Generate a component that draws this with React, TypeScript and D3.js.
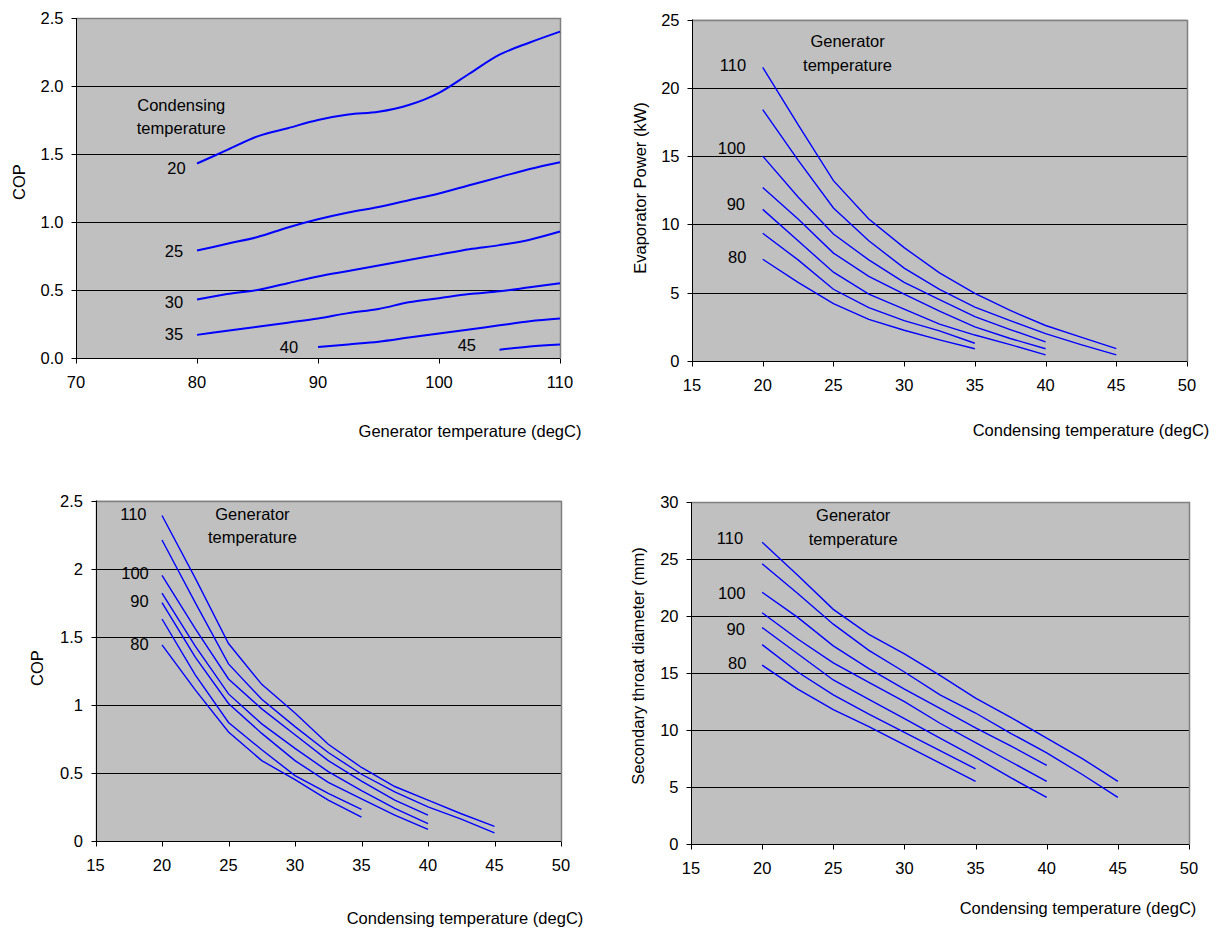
import React from 'react';
import * as d3 from 'd3';

// Chart 1: COP vs generator temperature, one line per condensing temperature
const genTemps = [80, 82.5, 85, 87.5, 90, 92.5, 95, 97.5, 100, 102.5, 105, 107.5, 110];
const copByCond = [
  [1.43, 1.53, 1.63, 1.69, 1.75, 1.79, 1.81, 1.86, 1.95, 2.09, 2.23, 2.32, 2.4],
  [0.79, 0.84, 0.89, 0.96, 1.02, 1.07, 1.11, 1.16, 1.21, 1.27, 1.33, 1.39, 1.44],
  [0.43, 0.47, 0.5, 0.55, 0.6, 0.64, 0.68, 0.72, 0.76, 0.8, 0.83, 0.87, 0.93],
  [0.17, 0.2, 0.23, 0.26, 0.29, 0.33, 0.36, 0.41, 0.44, 0.47, 0.49, 0.52, 0.55],
  [null, null, null, null, 0.08, 0.1, 0.12, 0.15, 0.18, 0.21, 0.24, 0.27, 0.29],
  [null, null, null, null, null, null, null, null, null, null, 0.06, 0.085, 0.1],
];

// Charts 2-4: one line per generator temperature (110, 105 ... 80)
const condTemps = [20, 22.5, 25, 27.5, 30, 32.5, 35, 37.5, 40, 42.5, 45];
const evapPower = [
  [21.5, 17.3, 13.2, 10.4, 8.3, 6.45, 4.95, 3.7, 2.6, 1.75, 0.9],
  [18.4, 14.7, 11.2, 8.8, 6.8, 5.25, 3.95, 2.95, 2.0, 1.2, 0.45],
  [15.0, 12.0, 9.3, 7.4, 5.75, 4.5, 3.25, 2.3, 1.4],
  [12.7, 10.4, 7.9, 6.2, 4.9, 3.65, 2.5, 1.65, 0.9],
  [11.1, 8.8, 6.5, 4.9, 3.8, 2.7, 1.9, 1.2, 0.45],
  [9.35, 7.4, 5.25, 3.9, 2.95, 2.2, 1.3],
  [7.45, 5.75, 4.2, 3.05, 2.25, 1.55, 0.9],
];
const copByGen = [
  [2.39, 1.93, 1.45, 1.15, 0.94, 0.71, 0.54, 0.4, 0.3, 0.2, 0.107],
  [2.21, 1.75, 1.3, 1.04, 0.84, 0.65, 0.49, 0.36, 0.25, 0.16, 0.06],
  [1.95, 1.56, 1.19, 0.97, 0.78, 0.59, 0.44, 0.3, 0.19],
  [1.82, 1.43, 1.08, 0.86, 0.68, 0.51, 0.37, 0.24, 0.127],
  [1.75, 1.35, 1.01, 0.79, 0.59, 0.43, 0.31, 0.19, 0.086],
  [1.63, 1.22, 0.87, 0.67, 0.48, 0.35, 0.232],
  [1.44, 1.11, 0.8, 0.59, 0.45, 0.3, 0.176],
];
const throatDiam = [
  [26.5, 23.6, 20.6, 18.4, 16.7, 14.8, 12.8, 11.1, 9.3, 7.5, 5.5],
  [24.6, 22.0, 19.3, 17.0, 15.1, 13.1, 11.5, 9.7, 8.0, 6.1, 4.1],
  [22.1, 19.9, 17.4, 15.4, 13.6, 11.9, 10.2, 8.6, 6.9],
  [20.3, 18.0, 15.9, 14.2, 12.5, 10.6, 8.9, 7.2, 5.5],
  [19.0, 16.7, 14.4, 12.7, 11.0, 9.3, 7.6, 5.8, 4.1],
  [17.5, 15.1, 13.1, 11.4, 9.8, 8.2, 6.6],
  [15.7, 13.6, 11.8, 10.3, 8.7, 7.1, 5.5],
];

// tick values
const genTicks = [70, 80, 90, 100, 110];
const condTicks = [15, 20, 25, 30, 35, 40, 45, 50];
const copTicks = [0, 0.5, 1, 1.5, 2, 2.5];
const powerTicks = [0, 5, 10, 15, 20, 25];
const diamTicks = [0, 5, 10, 15, 20, 25, 30];

// in-plot annotations, placed in data units
const notes1 = [
  { t: 'Condensing', x: 78.7, y: 1.86 },
  { t: 'temperature', x: 78.7, y: 1.69 },
  { t: '20', x: 78.3, y: 1.4 },
  { t: '25', x: 78.1, y: 0.79 },
  { t: '30', x: 78.1, y: 0.41 },
  { t: '35', x: 78.1, y: 0.18 },
  { t: '40', x: 87.6, y: 0.08 },
  { t: '45', x: 102.3, y: 0.095 },
];
const notes2 = [
  { t: 'Generator', x: 26.0, y: 23.4 },
  { t: 'temperature', x: 26.0, y: 21.7 },
  { t: '110', x: 17.9, y: 21.7 },
  { t: '100', x: 17.8, y: 15.6 },
  { t: '90', x: 18.1, y: 11.5 },
  { t: '80', x: 18.2, y: 7.6 },
];
const notes3 = [
  { t: 'Generator', x: 26.8, y: 2.4 },
  { t: 'temperature', x: 26.8, y: 2.23 },
  { t: '110', x: 17.85, y: 2.4 },
  { t: '100', x: 17.97, y: 1.97 },
  { t: '90', x: 18.3, y: 1.76 },
  { t: '80', x: 18.3, y: 1.45 },
];
const notes4 = [
  { t: 'Generator', x: 26.4, y: 28.9 },
  { t: 'temperature', x: 26.4, y: 26.75 },
  { t: '110', x: 17.74, y: 26.9 },
  { t: '100', x: 17.86, y: 22.0 },
  { t: '90', x: 18.14, y: 18.9 },
  { t: '80', x: 18.25, y: 15.9 },
];

const FONT = "'Liberation Sans', Arial, sans-serif";
const FS = 16.5;

function Panel({ box, xDomain, yDomain, xTicks, yTicks, fmtY, xs, series, curve, sw, notes, xTitle, xTitleAt, yTitle, yTitleAt }) {
  const x = d3.scaleLinear().domain(xDomain).range([box.left, box.right]);
  const y = d3.scaleLinear().domain(yDomain).range([box.bottom, box.top]);
  const line = d3
    .line<number | null>()
    .defined(d => d != null)
    .x((d, i) => x(xs[i]))
    .y(d => y(d as number))
    .curve(curve);
  const crisp = (v: number) => Math.round(v) + 0.5;

  return (
    <g fontFamily={FONT} fontSize={FS}>
      <rect x={box.left} y={box.top} width={box.right - box.left} height={box.bottom - box.top} fill="#c0c0c0" />
      {yTicks.slice(1, -1).map(t => (
        <line key={t} x1={box.left} x2={box.right} y1={crisp(y(t))} y2={crisp(y(t))} stroke="#000" />
      ))}
      {/* plot border: top and right grey */}
      <path d={`M${crisp(box.left)},${crisp(box.top)}H${crisp(box.right)}V${crisp(box.bottom)}`} fill="none" stroke="#808080" strokeWidth={1.5} />
      {series.map((s, i) => (
        <path key={i} d={line(s) || ''} fill="none" stroke="#0000ff" strokeWidth={sw} />
      ))}
      {/* axes */}
      <line x1={crisp(box.left)} x2={crisp(box.left)} y1={box.top} y2={crisp(box.bottom)} stroke="#000" />
      <line x1={box.left} x2={box.right} y1={crisp(box.bottom)} y2={crisp(box.bottom)} stroke="#000" />
      {yTicks.map(t => (
        <g key={t}>
          <line x1={crisp(box.left) - 5} x2={crisp(box.left)} y1={crisp(y(t))} y2={crisp(y(t))} stroke="#000" />
          <text x={box.left - 12.5} y={y(t)} textAnchor="end" dominantBaseline="central">{fmtY(t)}</text>
        </g>
      ))}
      {xTicks.map(t => (
        <g key={t}>
          <line x1={crisp(x(t))} x2={crisp(x(t))} y1={crisp(box.bottom)} y2={crisp(box.bottom) + 5} stroke="#000" />
          <text x={x(t)} y={box.bottom + 24} textAnchor="middle" dominantBaseline="central">{t}</text>
        </g>
      ))}
      {notes.map((n, i) => (
        <text key={i} x={x(n.x)} y={y(n.y)} textAnchor="middle" dominantBaseline="central">{n.t}</text>
      ))}
      <text x={xTitleAt[0]} y={xTitleAt[1]} textAnchor="middle" dominantBaseline="central">{xTitle}</text>
      <text
        transform={`translate(${yTitleAt[0]},${yTitleAt[1]}) rotate(-90)`}
        textAnchor="middle"
        dominantBaseline="central"
      >
        {yTitle}
      </text>
    </g>
  );
}

const fmt1 = d3.format('.1f');
const fmtPlain = (v: number) => String(v);

export default function App() {
  return (
    <svg width={1222} height={928} style={{ position: 'absolute', left: 0, top: 0, background: '#fff' }}>
      <Panel
        box={{ left: 76, right: 560, top: 18, bottom: 358 }}
        xDomain={[70, 110]}
        yDomain={[0, 2.5]}
        xTicks={genTicks}
        yTicks={copTicks}
        fmtY={fmt1}
        xs={genTemps}
        series={copByCond}
        curve={d3.curveMonotoneX}
        sw={2}
        notes={notes1}
        xTitle="Generator temperature (degC)"
        xTitleAt={[470, 431]}
        yTitle="COP"
        yTitleAt={[19, 182]}
      />
      <Panel
        box={{ left: 692, right: 1187, top: 19.5, bottom: 361 }}
        xDomain={[15, 50]}
        yDomain={[0, 25]}
        xTicks={condTicks}
        yTicks={powerTicks}
        fmtY={fmtPlain}
        xs={condTemps}
        series={evapPower}
        curve={d3.curveLinear}
        sw={1.4}
        notes={notes2}
        xTitle="Condensing temperature (degC)"
        xTitleAt={[1091, 430]}
        yTitle="Evaporator Power  (kW)"
        yTitleAt={[640, 188]}
      />
      <Panel
        box={{ left: 95.5, right: 561, top: 500.5, bottom: 841 }}
        xDomain={[15, 50]}
        yDomain={[0, 2.5]}
        xTicks={condTicks}
        yTicks={copTicks}
        fmtY={fmtPlain}
        xs={condTemps}
        series={copByGen}
        curve={d3.curveLinear}
        sw={1.4}
        notes={notes3}
        xTitle="Condensing temperature (degC)"
        xTitleAt={[465, 918]}
        yTitle="COP"
        yTitleAt={[37, 668]}
      />
      <Panel
        box={{ left: 691, right: 1189, top: 502.3, bottom: 844 }}
        xDomain={[15, 50]}
        yDomain={[0, 30]}
        xTicks={condTicks}
        yTicks={diamTicks}
        fmtY={fmtPlain}
        xs={condTemps}
        series={throatDiam}
        curve={d3.curveLinear}
        sw={1.4}
        notes={notes4}
        xTitle="Condensing temperature (degC)"
        xTitleAt={[1078, 908]}
        yTitle="Secondary throat diameter (mm)"
        yTitleAt={[638, 666]}
      />
    </svg>
  );
}
